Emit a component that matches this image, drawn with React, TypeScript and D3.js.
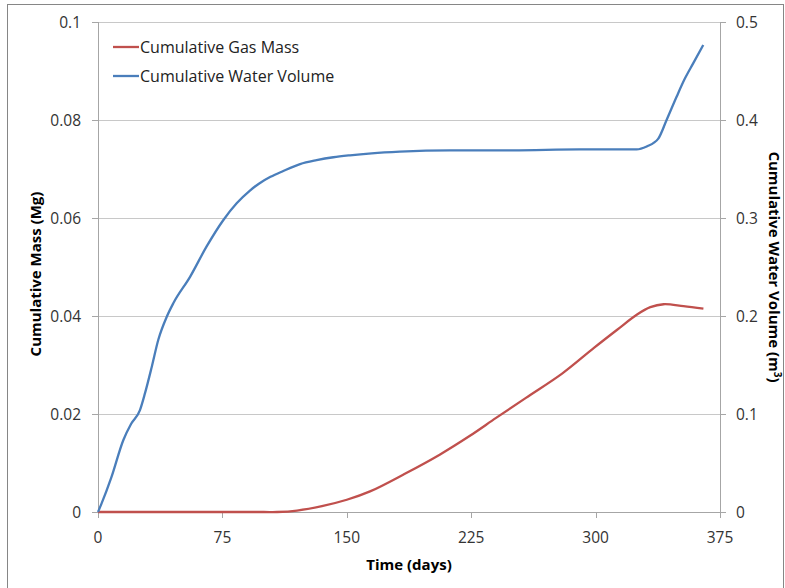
import React from "react";
import * as d3 from "d3";

const waterTime = [0, 2, 8, 15.3, 20, 25.3, 28.3, 32.4, 36.4, 41.4, 45.4, 55.5, 65.5, 75.6, 83.6, 91.6, 97, 104, 111.7, 121.8, 131.8, 141.9, 151.9, 165, 182, 212, 250, 290, 324.7, 330.8, 337.8, 342.8, 348.9, 353.9, 358.9, 364.9];
const waterVolume = [0, 0.008, 0.035, 0.0735, 0.09, 0.104, 0.121, 0.148, 0.176, 0.199, 0.213, 0.24, 0.271, 0.298, 0.315, 0.328, 0.335, 0.342, 0.348, 0.355, 0.359, 0.362, 0.364, 0.366, 0.3677, 0.369, 0.369, 0.37, 0.37, 0.373, 0.381, 0.4, 0.424, 0.4425, 0.458, 0.4765];

const gasTime = [0, 50, 100, 108, 120, 135, 150, 164, 185, 206, 224, 240, 258, 280, 299, 313, 325, 333, 341, 353, 365];
const gasMass = [0, 0, 0, 0, 0.0003, 0.0012, 0.0025, 0.0042, 0.0078, 0.0117, 0.0155, 0.0192, 0.0233, 0.0283, 0.0335, 0.0372, 0.0403, 0.0418, 0.0424, 0.042, 0.0415];

const xTicks = [0, 75, 150, 225, 300, 375];
const leftTicks = [0, 0.02, 0.04, 0.06, 0.08, 0.1];
const rightTicks = [0, 0.1, 0.2, 0.3, 0.4, 0.5];

const seriesNames = ["Cumulative Gas Mass", "Cumulative Water Volume"];
const seriesColors = ["#c0504d", "#4a7ebb"];

const FONT = "'Open Sans', sans-serif";

export default function App() {
  const left = 98, right = 720, top = 22, bottom = 512;
  const x = d3.scaleLinear().domain([0, 375]).range([left, right]);
  const yL = d3.scaleLinear().domain([0, 0.1]).range([bottom, top]);
  const yR = d3.scaleLinear().domain([0, 0.5]).range([bottom, top]);

  const gasLine = d3.line<number>()
    .x((_, i) => x(gasTime[i]))
    .y((d) => yL(d))
    .curve(d3.curveCatmullRom.alpha(0.5));
  const waterLine = d3.line<number>()
    .x((_, i) => x(waterTime[i]))
    .y((d) => yR(d))
    .curve(d3.curveMonotoneX);

  const fmt = (v: number) => (v === 0 ? "0" : String(+v.toFixed(2)));

  return (
    <svg width={785} height={588} style={{ position: "absolute", left: 0, top: 0 }}>
      <rect x={0} y={0} width={785} height={588} fill="#fff" />
      <rect x={7.5} y={4.5} width={776} height={600} fill="none" stroke="#868686" strokeWidth={1} />
      {leftTicks.slice(1).map((t) => (
        <line key={"g" + t} x1={left} x2={right} y1={Math.round(yL(t)) + 0.5} y2={Math.round(yL(t)) + 0.5} stroke="#c8c8c8" strokeWidth={1} />
      ))}
      <line x1={left + 0.5} x2={left + 0.5} y1={top} y2={bottom + 6} stroke="#a6a6a6" />
      <line x1={right + 0.5} x2={right + 0.5} y1={top} y2={bottom + 6} stroke="#a6a6a6" />
      <line x1={left - 6} x2={right + 6} y1={bottom + 0.5} y2={bottom + 0.5} stroke="#a6a6a6" />
      {leftTicks.map((t) => (
        <g key={"l" + t}>
          <line x1={left - 6} x2={left} y1={Math.round(yL(t)) + 0.5} y2={Math.round(yL(t)) + 0.5} stroke="#a6a6a6" />
          <text x={81} y={yL(t) + 5.5} textAnchor="end" fontFamily={FONT} fontSize={15.5} fill="#333">{fmt(t)}</text>
        </g>
      ))}
      {rightTicks.map((t) => (
        <g key={"r" + t}>
          <line x1={right} x2={right + 6} y1={Math.round(yR(t)) + 0.5} y2={Math.round(yR(t)) + 0.5} stroke="#a6a6a6" />
          <text x={736} y={yR(t) + 5.5} textAnchor="start" fontFamily={FONT} fontSize={15.5} fill="#333">{fmt(t)}</text>
        </g>
      ))}
      {xTicks.map((t) => (
        <g key={"x" + t}>
          <line x1={Math.round(x(t)) + 0.5} x2={Math.round(x(t)) + 0.5} y1={bottom} y2={bottom + 6} stroke="#a6a6a6" />
          <text x={x(t)} y={543} textAnchor="middle" fontFamily={FONT} fontSize={15.5} fill="#333">{t}</text>
        </g>
      ))}
      <text x={409} y={570} textAnchor="middle" fontFamily={FONT} fontSize={15} fontWeight="bold" fill="#000">Time (days)</text>
      <text transform="translate(41,274) rotate(-90)" textAnchor="middle" fontFamily={FONT} fontSize={15} fontWeight="bold" fill="#000">Cumulative Mass (Mg)</text>
      <text transform="translate(769,267) rotate(90)" textAnchor="middle" fontFamily={FONT} fontSize={15} fontWeight="bold" fill="#000">
        Cumulative Water Volume (m<tspan dy={-5} fontSize={10}>3</tspan><tspan dy={5}>)</tspan>
      </text>
      <path d={gasLine(gasMass) || ""} fill="none" stroke={seriesColors[0]} strokeWidth={2.3} />
      <path d={waterLine(waterVolume) || ""} fill="none" stroke={seriesColors[1]} strokeWidth={2.3} />
      {seriesNames.map((n, i) => (
        <g key={n}>
          <line x1={113} x2={139} y1={47 + i * 29} y2={47 + i * 29} stroke={seriesColors[i]} strokeWidth={2.3} />
          <text x={140} y={52.5 + i * 29} fontFamily={FONT} fontSize={16} fill="#222">{n}</text>
        </g>
      ))}
    </svg>
  );
}
